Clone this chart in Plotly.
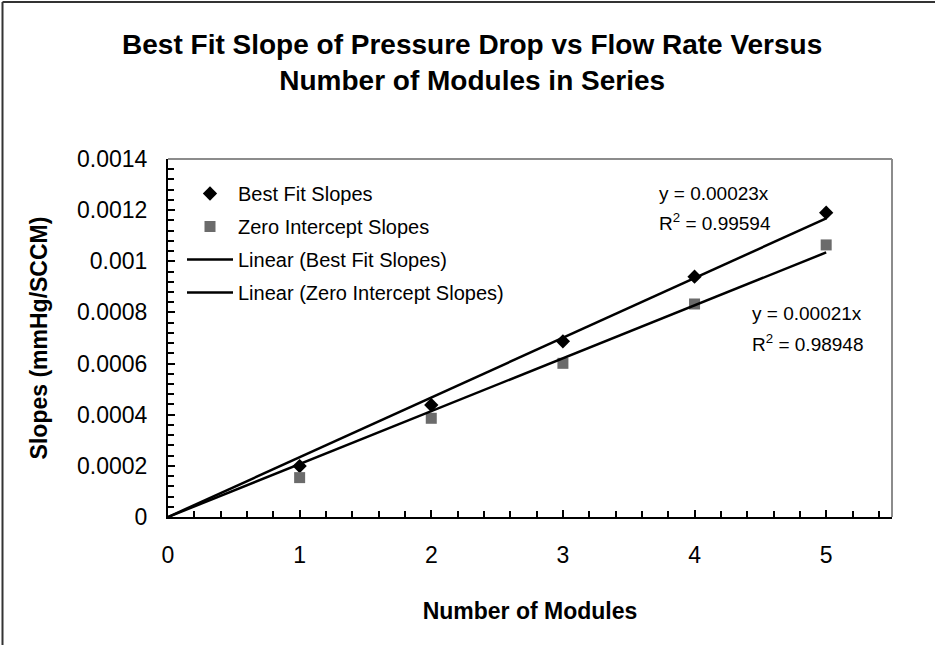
import numpy as np
import plotly.graph_objects as go

# ---- data ----
modules = [1, 2, 3, 4, 5]
best_fit_slopes = [0.000199, 0.000438, 0.000687, 0.00094, 0.00119]
zero_intercept_slopes = [0.000154, 0.000386, 0.000601, 0.000833, 0.001064]

y_tick_vals = [0, 0.0002, 0.0004, 0.0006, 0.0008, 0.001, 0.0012, 0.0014]
y_tick_text = ["0", "0.0002", "0.0004", "0.0006", "0.0008", "0.001", "0.0012", "0.0014"]
x_tick_vals = [0, 1, 2, 3, 4, 5]
x_tick_text = ["0", "1", "2", "3", "4", "5"]

eq_best = ["y = 0.00023x", "R<sup>2</sup> = 0.99594"]
eq_zero = ["y = 0.00021x", "R<sup>2</sup> = 0.98948"]

# zero-intercept least-squares trend lines (Excel "Linear" trendline, intercept = 0)
xm = np.array(modules, dtype=float)
k_best = float(np.sum(xm * np.array(best_fit_slopes)) / np.sum(xm * xm))
k_zero = float(np.sum(xm * np.array(zero_intercept_slopes)) / np.sum(xm * xm))
trend_x = [0, 5]

FONT = "Liberation Sans, Arial, sans-serif"

fig = go.Figure()
fig.add_trace(go.Scatter(
    x=modules, y=best_fit_slopes, mode="markers", name="Best Fit Slopes",
    legendgroup="a",
    marker=dict(symbol="diamond", size=11, color="black"),
))
fig.add_trace(go.Scatter(
    x=modules, y=zero_intercept_slopes, mode="markers", name="Zero Intercept Slopes",
    legendgroup="b",
    marker=dict(symbol="square", size=11, color="#6b6b6b"),
))
fig.add_trace(go.Scatter(
    x=trend_x, y=[k_best * v for v in trend_x], mode="lines",
    name="Linear (Best Fit Slopes)", legendgroup="c",
    line=dict(color="black", width=2.5),
))
fig.add_trace(go.Scatter(
    x=trend_x, y=[k_zero * v for v in trend_x], mode="lines",
    name="Linear (Zero Intercept Slopes)", legendgroup="d",
    line=dict(color="black", width=2.5),
))

L, R, T, B = 168, 43, 159, 128
W, H = 935, 645
pw = W - L - R
ph = H - T - B

def px_x(p):
    return (p - L) / pw

def px_y(p):
    return 1 - (p - T) / ph

annos = []
for txt, ypx in zip(eq_best, [193, 222]):
    annos.append(dict(x=px_x(657), y=px_y(ypx), xref="paper", yref="paper",
                      text=txt, showarrow=False, xanchor="left", yanchor="middle",
                      font=dict(size=19, color="black", family=FONT)))
for txt, ypx in zip(eq_zero, [313, 343]):
    annos.append(dict(x=px_x(750), y=px_y(ypx), xref="paper", yref="paper",
                      text=txt, showarrow=False, xanchor="left", yanchor="middle",
                      font=dict(size=19, color="black", family=FONT)))

shapes = [
    # plot-area top and right border (gray)
    dict(type="line", xref="paper", yref="paper", x0=0, x1=1, y0=1, y1=1,
         line=dict(color="#8c8c8c", width=2)),
    dict(type="line", xref="paper", yref="paper", x0=1, x1=1, y0=0, y1=1,
         line=dict(color="#8c8c8c", width=2)),
    # chart-area frame (left and top)
    dict(type="line", xref="paper", yref="paper", x0=px_x(2.5), x1=px_x(W + 5),
         y0=px_y(2), y1=px_y(2), line=dict(color="#333333", width=2)),
    dict(type="line", xref="paper", yref="paper", x0=px_x(2.5), x1=px_x(2.5),
         y0=px_y(2), y1=px_y(H + 5), line=dict(color="#333333", width=2)),
]

fig.update_layout(
    width=W, height=H,
    margin=dict(l=L, r=R, t=T, b=B, autoexpand=False),
    paper_bgcolor="white", plot_bgcolor="white",
    font=dict(family=FONT, color="black"),
    title=dict(
        text="<b>Best Fit Slope of Pressure Drop vs Flow Rate Versus<br>Number of Modules in Series</b>",
        x=0.505, xref="container", xanchor="center",
        y=1 - 54 / H, yref="container", yanchor="top",
        font=dict(size=28, family=FONT, color="black"),
    ),
    showlegend=True,
    legend=dict(
        x=px_x(182), y=px_y(174), xanchor="left", yanchor="top",
        font=dict(size=20, family=FONT, color="black"),
        bgcolor="rgba(0,0,0,0)", borderwidth=0,
        itemwidth=46, tracegroupgap=4, traceorder="grouped",
    ),
    annotations=annos,
    shapes=shapes,
)

fig.update_xaxes(
    range=[0, 5.5], tickvals=x_tick_vals, ticktext=x_tick_text,
    showgrid=False, zeroline=False,
    showline=True, linecolor="black", linewidth=2,
    ticks="inside", ticklen=7, tickwidth=1.5, tickcolor="black",
    minor=dict(dtick=0.2, ticks="inside", ticklen=6, tickwidth=1.5, tickcolor="black", showgrid=False),
    tickfont=dict(size=23, family=FONT, color="black"),
    ticklabelstandoff=16,
    title=dict(text="<b>Number of Modules</b>", font=dict(size=23, family=FONT, color="black"), standoff=36),
)
fig.update_yaxes(
    range=[0, 0.0014], tickvals=y_tick_vals, ticktext=y_tick_text,
    showgrid=False, zeroline=False,
    showline=True, linecolor="black", linewidth=2,
    ticks="inside", ticklen=7, tickwidth=1.5, tickcolor="black",
    minor=dict(dtick=0.00004, tick0=0, ticks="inside", ticklen=6, tickwidth=1.5, tickcolor="black", showgrid=False),
    tickfont=dict(size=23, family=FONT, color="black"),
    ticklabelstandoff=14,
    title=dict(text="<b>Slopes (mmHg/SCCM)</b>", font=dict(size=23, family=FONT, color="black"), standoff=23),
)

fig.write_html(
    "out.html",
    config={"displayModeBar": False},
    post_script="document.body.style.margin='0';document.body.style.overflow='hidden';",
)
